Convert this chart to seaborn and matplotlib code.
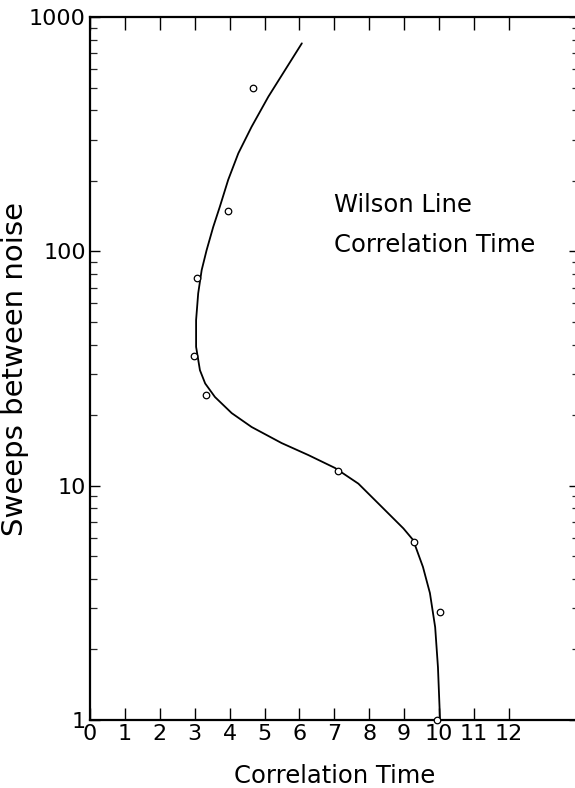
import numpy as np
import pandas as pd
import matplotlib
matplotlib.use("Agg")
import matplotlib.pyplot as plt
import seaborn as sns
from matplotlib.ticker import FixedLocator, LogLocator, NullFormatter, FixedFormatter

# measured points
point_x = [4.67, 3.95, 3.07, 2.98, 3.32, 7.11, 9.28, 10.03, 9.94]
point_y = [497, 148, 77, 35.6, 24.3, 11.6, 5.77, 2.9, 1.0]

# hand-drawn curve
curve_x = [6.07, 5.59, 5.11, 4.63, 4.25, 3.96, 3.72, 3.53, 3.34, 3.20, 3.10, 3.04,
           3.04, 3.15, 3.30, 3.58, 4.06, 4.63, 5.49, 6.26, 7.02, 7.69, 8.26, 8.98,
           9.26, 9.54, 9.74, 9.89, 9.97, 10.03]
curve_y = [772, 594, 457, 340, 262, 202, 155, 127, 101, 83.2, 66.2, 50.9,
           39.1, 31.1, 27.3, 23.9, 20.4, 17.8, 15.2, 13.5, 11.9, 10.2, 8.40, 6.57,
           5.86, 4.50, 3.48, 2.49, 1.68, 1.0]

x_ticks = list(range(0, 13))
y_ticks = [1, 10, 100, 1000]
y_tick_labels = ["1", "10", "100", "1000"]

sns.set_style("ticks")
plt.rcParams["font.family"] = ["DejaVu Sans"]
plt.rcParams["text.color"] = "black"
plt.rcParams["axes.labelcolor"] = "black"

fig = plt.figure(figsize=(5.75, 7.88), dpi=100)
ax = fig.add_axes([90/575, 68/788, 488.6/575, 703/788])

curve = pd.DataFrame({"x": curve_x, "y": curve_y})
pts = pd.DataFrame({"x": point_x, "y": point_y})

sns.lineplot(data=curve, x="x", y="y", sort=False, estimator=None, color="black",
             linewidth=1.3, ax=ax)
sns.scatterplot(data=pts, x="x", y="y", marker="o", s=22, facecolor="white",
                edgecolor="black", linewidth=0.9, ax=ax, zorder=5, clip_on=False)

ax.set_yscale("log")
ax.set_xlim(0, 14)
ax.set_ylim(1, 1000)

ax.xaxis.set_major_locator(FixedLocator(x_ticks))
ax.set_xticklabels([str(t) for t in x_ticks])
ax.yaxis.set_major_locator(FixedLocator(y_ticks))
ax.yaxis.set_major_formatter(FixedFormatter(y_tick_labels))
ax.yaxis.set_minor_locator(LogLocator(base=10, subs=np.arange(2, 10)))
ax.yaxis.set_minor_formatter(NullFormatter())

ax.tick_params(axis="x", which="major", direction="in", length=9, width=1.0,
               top=True, bottom=True, labelsize=16, pad=3, colors="black")
ax.tick_params(axis="y", which="major", direction="in", length=7, width=1.0,
               left=True, right=True, labelsize=16, pad=3, colors="black")
ax.tick_params(axis="y", which="minor", direction="in", length=5, width=0.9,
               left=True, right=True)

for s in ax.spines.values():
    s.set_linewidth(1.6)
    s.set_color("black")

ax.set_xlabel("Correlation Time", fontsize=17.5, labelpad=14)
ax.set_ylabel("Sweeps between noise", fontsize=21, labelpad=0)

ax.text(7.0, 158, "Wilson Line", fontsize=17.5, va="center", ha="left")
ax.text(7.0, 106, "Correlation Time", fontsize=17.5, va="center", ha="left")

fig.savefig("out.png", dpi=100, facecolor="white")
